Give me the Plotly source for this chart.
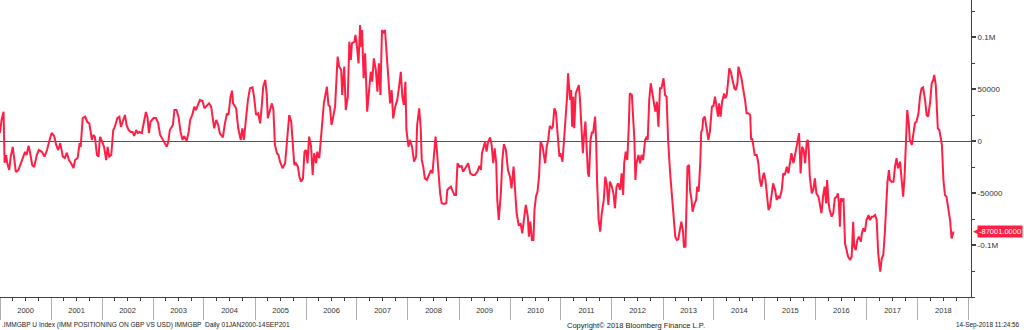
import pandas as pd
import plotly.graph_objects as go

# IMM non-commercial net positioning on GBP vs USD (contracts), by decimal year
t_2000_2005 = [
    2000.00, 2000.03, 2000.07, 2000.09, 2000.12, 2000.14, 2000.18, 2000.21, 2000.25, 2000.27,
    2000.31, 2000.36, 2000.41, 2000.45, 2000.49, 2000.52, 2000.56, 2000.59, 2000.63, 2000.67,
    2000.72, 2000.76, 2000.82, 2000.87, 2000.92, 2000.97, 2001.01, 2001.06, 2001.10, 2001.14,
    2001.18, 2001.23, 2001.27, 2001.31, 2001.35, 2001.39, 2001.44, 2001.47, 2001.52, 2001.56,
    2001.58, 2001.62, 2001.67, 2001.71, 2001.75, 2001.80, 2001.83, 2001.86, 2001.90, 2001.93,
    2001.96, 2001.99, 2002.04, 2002.08, 2002.11, 2002.14, 2002.18, 2002.22, 2002.25, 2002.30,
    2002.34, 2002.37, 2002.41, 2002.45, 2002.48, 2002.52, 2002.56, 2002.60, 2002.63, 2002.67,
    2002.70, 2002.73, 2002.78, 2002.82, 2002.86, 2002.89, 2002.92, 2002.95, 2003.01, 2003.06,
    2003.10, 2003.14, 2003.17, 2003.22, 2003.27, 2003.30, 2003.33, 2003.39, 2003.42, 2003.46,
    2003.50, 2003.54, 2003.58, 2003.61, 2003.66, 2003.70, 2003.73, 2003.77, 2003.81, 2003.84,
    2003.88, 2003.92, 2003.97, 2004.01, 2004.05, 2004.10, 2004.14, 2004.17, 2004.20, 2004.24,
    2004.28, 2004.31, 2004.37, 2004.41, 2004.45, 2004.48, 2004.52, 2004.55, 2004.57, 2004.63,
    2004.67, 2004.72, 2004.75, 2004.78, 2004.82, 2004.86, 2004.90, 2004.95, 2004.98,
]
v_2000_2005 = [
    7700, 20200, 28200, -21000, -13500, -21000, -27900, -15000, -5700, -15000,
    -29800, -27900, -21200, -15000, -10400, -13500, -4500, -11500, -23100, -25000,
    -13500, -8700, -10400, -15000, -8700, 1000, 7700, 4800, -3800, -8700,
    -2000, -15000, -16300, -11200, -18300, -21200, -26000, -18300, -16300, -2000,
    -5700, 22000, 23300, 18300, 17000, 1000, 5800, 4000, -13500, -15000,
    4000, 1000, -5700, -18300, -5700, -15000, -13500, 10600, 13500, 22000,
    23300, 13500, 20200, 25000, 15400, 10600, 8700, 8700, 4800, 10600,
    7700, 8700, 7700, 17300, 27900, 23300, 7700, 18300, 22000, 22000,
    17300, 5800, 2900, -700, -5500, -700, 10600, 15400, 29800, 29800,
    23400, 8900, 1000, 4800, 300, 8900, 20200, 25000, 33000, 29800,
    34600, 39400, 38700, 31400, 33700, 36200, 33000, 21800, 12200, 20200,
    15400, 7400, 3500, 17000, 26600, 25000, 42600, 48400, 36200, 31400,
    12200, 1000, 12200, 1000, 20200, 39400, 50700, 51600, 42600,
]

t_2005_2011 = [
    2005.02, 2005.06, 2005.10, 2005.13, 2005.16, 2005.20, 2005.23, 2005.25, 2005.29, 2005.33,
    2005.36, 2005.39, 2005.43, 2005.46, 2005.49, 2005.54, 2005.59, 2005.63, 2005.67, 2005.71,
    2005.74, 2005.77, 2005.80, 2005.84, 2005.87, 2005.90, 2005.94, 2005.97, 2006.00, 2006.03,
    2006.06, 2006.10, 2006.13, 2006.16, 2006.20, 2006.22, 2006.26, 2006.29, 2006.31, 2006.35,
    2006.41, 2006.44, 2006.47, 2006.50, 2006.54, 2006.57, 2006.60, 2006.62, 2006.65, 2006.69,
    2006.71, 2006.75, 2006.78, 2006.82, 2006.85, 2006.88, 2006.90, 2006.95, 2006.97, 2006.99,
    2007.03, 2007.06, 2007.08, 2007.10, 2007.13, 2007.16, 2007.20, 2007.24, 2007.27, 2007.30,
    2007.33, 2007.37, 2007.40, 2007.43, 2007.46, 2007.49, 2007.52, 2007.55, 2007.58, 2007.61,
    2007.65, 2007.68, 2007.71, 2007.75, 2007.79, 2007.83, 2007.86, 2007.89, 2007.92, 2007.95,
    2007.97, 2008.01, 2008.04, 2008.08, 2008.12, 2008.16, 2008.18, 2008.22, 2008.25, 2008.27,
    2008.30, 2008.33, 2008.37, 2008.41, 2008.45, 2008.48, 2008.51, 2008.54, 2008.56, 2008.60,
    2008.63, 2008.66, 2008.71, 2008.75, 2008.77, 2008.80, 2008.84, 2008.88, 2008.91, 2008.94,
    2008.97, 2009.01, 2009.05, 2009.08, 2009.13, 2009.18, 2009.22, 2009.27, 2009.31, 2009.36,
    2009.40, 2009.43, 2009.45, 2009.48, 2009.51, 2009.54, 2009.57, 2009.61, 2009.64, 2009.67,
    2009.70, 2009.73, 2009.75, 2009.78, 2009.82, 2009.85, 2009.88, 2009.92, 2009.96, 2010.00,
    2010.03, 2010.07, 2010.10, 2010.13, 2010.17, 2010.21, 2010.24, 2010.27, 2010.31, 2010.35,
    2010.37, 2010.40, 2010.43, 2010.46, 2010.48, 2010.51, 2010.54, 2010.57, 2010.60, 2010.64,
    2010.69, 2010.72, 2010.75, 2010.78, 2010.82, 2010.84, 2010.87, 2010.90, 2010.94, 2010.97,
    2010.99,
]
v_2005_2011 = [
    25000, 26600, 17000, 33000, 52200, 58700, 44200, 21800, 28200, 36200,
    29800, -3800, -11800, -13500, -19900, -26200, -21400, 5800, 25000, 18600,
    -2200, -23100, -21400, -24700, -34300, -39100, -35900, -10300, -8700, -21400,
    4200, -5500, -32700, -11800, -21400, -10300, -16600, 1000, 13800, 36200,
    52200, 34600, 33000, 15400, 25000, 33000, 61800, 81100, 71500, 68300,
    44200, 71500, 29800, 42600, 95500, 77900, 93900, 95500, 101900, 95500,
    74700, 111500, 90700, 106700, 60300, 84300, 28200, 55500, 66600, 57000,
    79500, 68300, 47400, 74700, 44200, 106700, 103600, 106700, 85900, 68300,
    36200, 49000, 21800, 33000, 39400, 53800, 66600, 42600, 34600, 57000,
    10600, -5500, 1000, -5500, -19900, -15000, 15400, 31400, 12200, -18300,
    -24700, -35900, -37500, -32700, -27900, -31100, -11800, 4200, -5500, -37500,
    -50300, -59900, -60600, -59900, -47100, -45500, -43900, -48700, -51900, -51900,
    -21400, -24700, -24000, -29500, -24700, -21400, -31100, -32700, -32700, -29500,
    -24000, -27900, -11800, -5500, -700, -10300, -700, 3500, -3800, -21400,
    -7000, -21400, -56700, -76000, -50300, -18300, -2900, -8700, -27900, -34300,
    -45500, -24700, -45500, -69500, -80800, -79800, -88700, -76000, -61500, -72800,
    -92000, -77600, -95200, -95200, -66300, -53500, -48700, -34300, -700, -5500,
    -21400, -5500, 1000, 14400, 12200, 13800, 31400, 28200, -2200, -15000,
    -11800,
]

t_2011_2018 = [
    2011.03, 2011.06, 2011.09, 2011.12, 2011.14, 2011.18, 2011.20, 2011.22, 2011.24, 2011.26,
    2011.29, 2011.32, 2011.35, 2011.37, 2011.40, 2011.43, 2011.45, 2011.48, 2011.50, 2011.53,
    2011.55, 2011.58, 2011.61, 2011.63, 2011.67, 2011.69, 2011.71, 2011.74, 2011.77, 2011.80,
    2011.84, 2011.87, 2011.90, 2011.93, 2011.96, 2011.99, 2012.03, 2012.06, 2012.09, 2012.12,
    2012.16, 2012.19, 2012.22, 2012.24, 2012.27, 2012.30, 2012.33, 2012.35, 2012.39, 2012.42,
    2012.44, 2012.46, 2012.48, 2012.52, 2012.55, 2012.58, 2012.61, 2012.65, 2012.68, 2012.70,
    2012.73, 2012.76, 2012.80, 2012.82, 2012.85, 2012.88, 2012.91, 2012.94, 2012.97, 2013.01,
    2013.04, 2013.07, 2013.10, 2013.14, 2013.17, 2013.20, 2013.24, 2013.27, 2013.30, 2013.33,
    2013.36, 2013.39, 2013.41, 2013.44, 2013.46, 2013.48, 2013.51, 2013.53, 2013.56, 2013.58,
    2013.61, 2013.65, 2013.67, 2013.70, 2013.73, 2013.75, 2013.77, 2013.79, 2013.82, 2013.86,
    2013.89, 2013.92, 2013.96, 2013.99, 2014.02, 2014.05, 2014.08, 2014.10, 2014.13, 2014.16,
    2014.20, 2014.22, 2014.25, 2014.28, 2014.30, 2014.33, 2014.37, 2014.40, 2014.43, 2014.46,
    2014.48, 2014.51, 2014.54, 2014.57, 2014.61, 2014.64, 2014.67, 2014.71, 2014.73, 2014.75,
    2014.77, 2014.80, 2014.84, 2014.87, 2014.90, 2014.93, 2014.96, 2014.98, 2015.01, 2015.05,
    2015.07, 2015.10, 2015.13, 2015.16, 2015.20, 2015.23, 2015.26, 2015.29, 2015.33, 2015.36,
    2015.39, 2015.43, 2015.46, 2015.49, 2015.52, 2015.56, 2015.59, 2015.62, 2015.65, 2015.67,
    2015.70, 2015.73, 2015.76, 2015.79, 2015.82, 2015.84, 2015.86, 2015.88, 2015.92, 2015.95,
    2015.98, 2016.01, 2016.05, 2016.08, 2016.11, 2016.14, 2016.17, 2016.20, 2016.22, 2016.25,
    2016.27, 2016.31, 2016.34, 2016.37, 2016.41, 2016.43, 2016.45, 2016.47, 2016.49, 2016.52,
    2016.54, 2016.57, 2016.60, 2016.63, 2016.67, 2016.70, 2016.73, 2016.75, 2016.78, 2016.81,
    2016.84, 2016.88, 2016.90, 2016.93, 2016.96, 2016.99, 2017.03, 2017.06, 2017.09, 2017.12,
    2017.16, 2017.19, 2017.22, 2017.24, 2017.26, 2017.29, 2017.32, 2017.35, 2017.37, 2017.40,
    2017.43, 2017.45, 2017.48, 2017.52, 2017.55, 2017.58, 2017.61, 2017.65, 2017.68, 2017.71,
    2017.74, 2017.76, 2017.79, 2017.82, 2017.84, 2017.88, 2017.91, 2017.94, 2017.97, 2018.01,
    2018.04, 2018.07, 2018.10, 2018.14, 2018.17, 2018.20, 2018.24, 2018.27, 2018.30, 2018.32,
    2018.35, 2018.37, 2018.39, 2018.42, 2018.45, 2018.47, 2018.50, 2018.53, 2018.56, 2018.59,
    2018.63, 2018.66, 2018.68, 2018.70,
]
v_2011_2018 = [
    -19900, 1000, 20200, 42600, 65100, 39400, 49000, 13800, 42600, 12200,
    45800, 49000, 53800, 42600, 13800, -11800, 4200, 18600, -2200, -31100,
    -34300, 1000, 8900, 7400, 23400, 1000, -40700, -76000, -87200, -69500,
    -56700, -34300, -42300, -61500, -39100, -42300, -50300, -64700, -43900, -40700,
    -47100, -31100, -51900, -21400, -10300, -18300, 13800, 45800, 44200, 17000,
    1000, -37500, -21400, -13500, -21400, -13500, -18300, 1000, 4200, 1000,
    39400, 55500, 42600, 39400, 28200, 37800, 13800, 50700, 50700, 60300,
    44200, 42600, 1000, -31100, -50300, -74300, -92000, -95200, -94500, -85600,
    -77600, -85600, -101600, -101600, -56700, -24700, -23100, -47100, -56700, -68000,
    -61500, -56700, -43900, -48700, -21400, 8900, 10600, 21800, 23400, 7400,
    1000, 8900, 33000, 33700, 42600, 33000, 23400, 36200, 23400, 37800,
    45800, 41000, 44200, 58700, 69900, 66600, 55500, 50700, 49000, 55500,
    71500, 66600, 60300, 50700, 39400, 26600, 26600, 25000, 1000, 2600,
    -5500, -13500, -13500, -21400, -37500, -43900, -34300, -30400, -37500, -53500,
    -66300, -63200, -53500, -40700, -47100, -56700, -53500, -55100, -47100, -31100,
    -32700, -24700, -31100, -21400, -11800, -21400, -13500, -5500, 1000, 7400,
    -31100, -5500, -8700, -21400, -700, 1000, -8700, -34300, -50300, -47100,
    -35900, -50300, -53500, -63200, -69500, -53500, -43900, -59900, -37500, -59900,
    -66300, -72800, -69500, -55100, -53500, -50300, -59900, -82400, -55100, -58300,
    -55100, -98400, -106400, -111200, -114400, -111200, -77600, -101600, -104800, -95200,
    -92000, -96800, -88700, -84000, -87200, -76000, -71200, -76000, -72800, -72800,
    -71200, -76000, -108000, -120800, -125700, -112800, -109600, -88700, -63200, -40700,
    -27900, -37500, -39100, -39100, -24700, -16600, -26200, -19900, -37500, -53500,
    -31100, 1000, 29800, 17000, 1000, -3800, 7400, 17000, 18600, 26600,
    42600, 50700, 51600, 39400, 25000, 23400, 37800, 55500, 58700, 63500,
    53800, 29800, 12200, 10600, 1000, -3800, -37500, -51900, -53500, -61500,
    -76000, -93600, -90400, -87001,
]

y_tick_vals = [-100000, -50000, 0, 50000, 100000]
y_tick_text = ["-0.1M", "-50000", "0", "50000", "0.1M"]

LINE_RED = "#ff1f45"
AXIS_GREY = "#404040"
FONT = "Liberation Sans, Arial, sans-serif"


def decimal_year_to_date(y):
    year = int(y)
    start = pd.Timestamp(year=year, month=1, day=1)
    end = pd.Timestamp(year=year + 1, month=1, day=1)
    return start + (end - start) * (y - year)


years = t_2000_2005 + t_2005_2011 + t_2011_2018
values = v_2000_2005 + v_2005_2011 + v_2011_2018
dates = [decimal_year_to_date(y) for y in years]
last_value = values[-1]

fig = go.Figure()
fig.add_trace(go.Scatter(
    x=dates, y=values, mode="lines",
    line=dict(color=LINE_RED, width=2),
    showlegend=False, hoverinfo="x+y",
))

fig.update_layout(
    width=1024, height=330,
    margin=dict(l=0, r=53, t=0, b=33),
    paper_bgcolor="white", plot_bgcolor="white",
    font=dict(family=FONT, size=8, color="#333333"),
)

fig.update_xaxes(
    type="date",
    range=[pd.Timestamp("2000-01-01"), pd.Timestamp("2019-01-16")],
    showgrid=False, zeroline=False,
    showline=True, linecolor=AXIS_GREY, linewidth=1,
    tick0="2000-01-01", dtick="M12", tickformat="%Y",
    ticklabelmode="period",
    ticks="outside", ticklen=22, tickwidth=1, tickcolor="#b0b0b0",
    ticklabelstandoff=-16,
    tickfont=dict(family=FONT, size=7.5, color="#333333"),
    minor=dict(dtick="M3", tick0="2000-01-01", ticks="outside", ticklen=3,
               tickcolor=AXIS_GREY, tickwidth=1),
)

fig.update_yaxes(
    side="right",
    range=[-150000, 135577],
    showgrid=False,
    zeroline=True, zerolinecolor="#555555", zerolinewidth=1,
    showline=True, linecolor=AXIS_GREY, linewidth=1,
    tickvals=y_tick_vals, ticktext=y_tick_text,
    ticks="outside", ticklen=4, tickwidth=2, tickcolor=AXIS_GREY,
    tickfont=dict(family=FONT, size=8, color="#333333"),
    minor=dict(dtick=25000, tick0=0, ticks="outside", ticklen=3,
               tickcolor=AXIS_GREY, tickwidth=1),
)

# last-value tag on the right axis
fig.add_annotation(
    xref="paper", x=1, yref="y", y=last_value,
    text="◀", showarrow=False,
    xanchor="left", yanchor="middle", xshift=0,
    font=dict(family=FONT, size=9, color=LINE_RED),
)
fig.add_annotation(
    xref="paper", x=1, yref="y", y=last_value,
    text="%.4f" % last_value, showarrow=False,
    xanchor="right", yanchor="middle", xshift=52,
    bgcolor=LINE_RED, borderpad=1,
    font=dict(family=FONT, size=7.5, color="white"),
)

# footer lines
footer_font = dict(family=FONT, size=7.5, color="#222222")
fig.add_annotation(
    xref="paper", x=0, yref="paper", y=0, xanchor="left", yanchor="top",
    yshift=-22, showarrow=False, font=dict(footer_font, size=6.6),
    text=".IMMGBP U Index (IMM POSITIONING ON GBP VS USD) IMMGBP  Daily 01JAN2000-14SEP201",
)
fig.add_annotation(
    xref="paper", x=0.582, yref="paper", y=0, xanchor="left", yanchor="top",
    yshift=-22, showarrow=False, font=footer_font,
    text="Copyright© 2018 Bloomberg Finance L.P.",
)
fig.add_annotation(
    xref="paper", x=1, yref="paper", y=0, xanchor="right", yanchor="top",
    xshift=51, yshift=-22, showarrow=False, font=dict(footer_font, size=6.4),
    text="14-Sep-2018 11:24:56",
)

fig.write_html("out.html")
